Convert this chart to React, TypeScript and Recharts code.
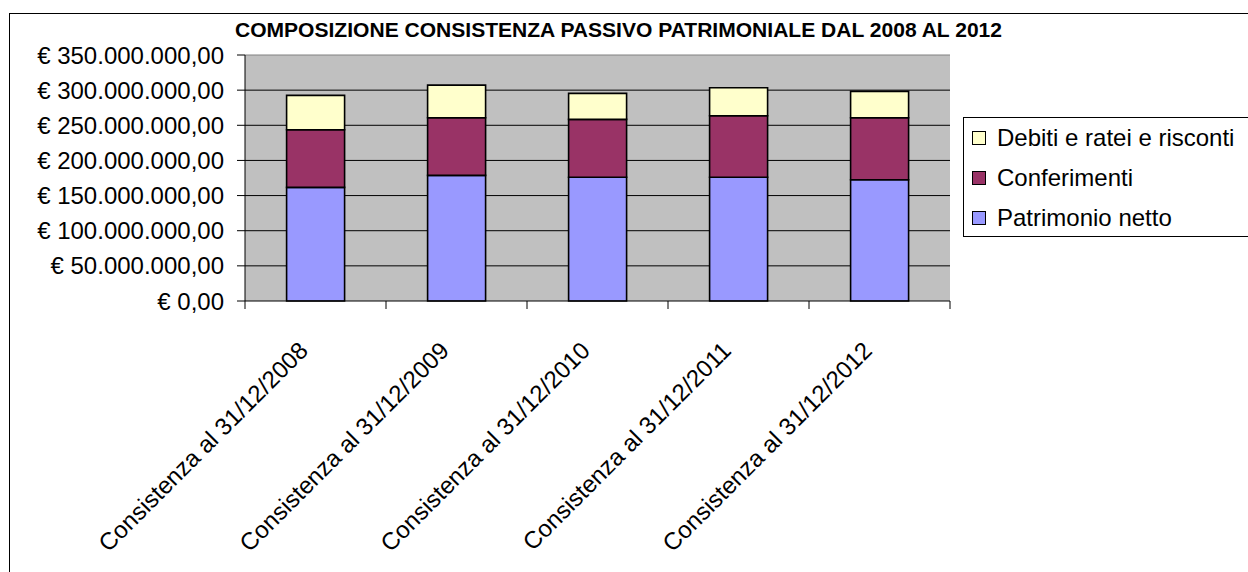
import React from "react";
import {
  BarChart,
  Bar,
  XAxis,
  YAxis,
  CartesianGrid,
  ReferenceLine,
} from "recharts";

const categories = [
  "Consistenza al 31/12/2008",
  "Consistenza al 31/12/2009",
  "Consistenza al 31/12/2010",
  "Consistenza al 31/12/2011",
  "Consistenza al 31/12/2012",
];
const patrimonioNetto = [161700000, 178800000, 176000000, 176000000, 172600000];
const conferimenti = [82000000, 82000000, 82400000, 87600000, 88200000];
const debitiRateiRisconti = [48900000, 46400000, 37000000, 39800000, 37500000];
const yTicks = [0, 50000000, 100000000, 150000000, 200000000, 250000000, 300000000, 350000000];

const title = "COMPOSIZIONE CONSISTENZA PASSIVO PATRIMONIALE DAL 2008 AL 2012";
const FONT = "'Liberation Sans', Arial, sans-serif";

const series = [
  { key: "patrimonio", name: "Patrimonio netto", color: "#9999FF" },
  { key: "conferimenti", name: "Conferimenti", color: "#993366" },
  { key: "debiti", name: "Debiti e ratei e risconti", color: "#FFFFCC" },
];

const data = categories.map((c, i) => ({
  name: c,
  patrimonio: patrimonioNetto[i],
  conferimenti: conferimenti[i],
  debiti: debitiRateiRisconti[i],
}));

// € 350.000.000,00
function euro(v: number) {
  const int = Math.round(v).toString().replace(/\B(?=(\d{3})+(?!\d))/g, ".");
  return "€ " + int + ",00";
}

// label + tick marks at the category boundaries (excel style)
function CategoryTick(props: any) {
  const { x, y, payload, index, visibleTicksCount } = props;
  const half = payload && payload.offset ? payload.offset : 70.5;
  const ax = x - 6;
  const ay = y + 51;
  const last = index === visibleTicksCount - 1;
  return (
    <g>
      <line x1={x - half} y1={y} x2={x - half} y2={y + 8} stroke="#000" />
      {last && (
        <line x1={x + half} y1={y} x2={x + half} y2={y + 8} stroke="#000" />
      )}
      <text
        x={ax}
        y={ay}
        transform={`rotate(-45, ${ax}, ${ay})`}
        textAnchor="end"
        fontSize={24}
        fontFamily={FONT}
        fill="#000"
      >
        {payload.value}
      </text>
    </g>
  );
}

function LegendBox() {
  const items = [...series].reverse();
  return (
    <div
      style={{
        position: "absolute",
        left: 963,
        top: 117,
        border: "1px solid #000",
        background: "#fff",
        width: 300,
        height: 120,
        boxSizing: "border-box",
        fontFamily: FONT,
        fontSize: 24,
      }}
    >
      {items.map((s) => (
        <div
          key={s.key}
          style={{ display: "flex", alignItems: "center", height: 40 }}
        >
          <span
            style={{
              display: "inline-block",
              width: 12,
              height: 12,
              marginLeft: 8,
              marginRight: 11,
              background: s.color,
              border: "1px solid #000",
            }}
          />
          <span style={{ color: "#000" }}>{s.name}</span>
        </div>
      ))}
    </div>
  );
}

export default function App() {
  return (
    <div
      style={{
        position: "absolute",
        left: 0,
        top: 0,
        width: 1248,
        height: 572,
        overflow: "hidden",
        background: "#fff",
      }}
    >
      <div
        style={{
          position: "absolute",
          left: 9,
          top: 13,
          width: 1300,
          height: 600,
          border: "1px solid #000",
        }}
      />
      <svg
        width={1248}
        height={60}
        style={{ position: "absolute", left: 0, top: 0 }}
      >
        <text
          x={618.5}
          y={36.7}
          textAnchor="middle"
          fontFamily={FONT}
          fontWeight="bold"
          fontSize={21}
          textLength={767}
          lengthAdjust="spacingAndGlyphs"
          fill="#000"
        >
          {title}
        </text>
      </svg>
      <div style={{ position: "absolute", left: 0, top: 0 }}>
        <BarChart
          width={1248}
          height={572}
          data={data}
          margin={{ top: 55, right: 298, bottom: 0, left: 0 }}
          barCategoryGap="29.5%"
        >
          <CartesianGrid
            vertical={false}
            fill="#C0C0C0"
            fillOpacity={1}
            stroke="#000"
            yAxisId="left"
            horizontalValues={yTicks.slice(1, -1)}
          />
          <XAxis
            dataKey="name"
            height={271}
            axisLine={{ stroke: "#000" }}
            tickLine={false}
            tickSize={0}
            tickMargin={0}
            interval={0}
            tick={<CategoryTick />}
          />
          <YAxis
            yAxisId="left"
            width={245}
            domain={[0, 350000000]}
            ticks={yTicks}
            interval={0}
            axisLine={{ stroke: "#000" }}
            tickLine={{ stroke: "#000" }}
            tickSize={8}
            tickMargin={13}
            tickFormatter={euro}
            tick={{ fontSize: 24, fontFamily: FONT, fill: "#000" }}
          />
          <YAxis
            yAxisId="right"
            orientation="right"
            width={0}
            domain={[0, 1]}
            tick={false}
            tickLine={false}
            axisLine={{ stroke: "#808080" }}
          />
          <ReferenceLine
            yAxisId="left"
            y={350000000}
            stroke="#808080"
            strokeWidth={1}
          />
          {series.map((s) => (
            <Bar
              key={s.key}
              yAxisId="left"
              dataKey={s.key}
              name={s.name}
              stackId="a"
              fill={s.color}
              stroke="#000"
              strokeWidth={1.6}
              isAnimationActive={false}
            />
          ))}
        </BarChart>
      </div>
      <LegendBox />
    </div>
  );
}
